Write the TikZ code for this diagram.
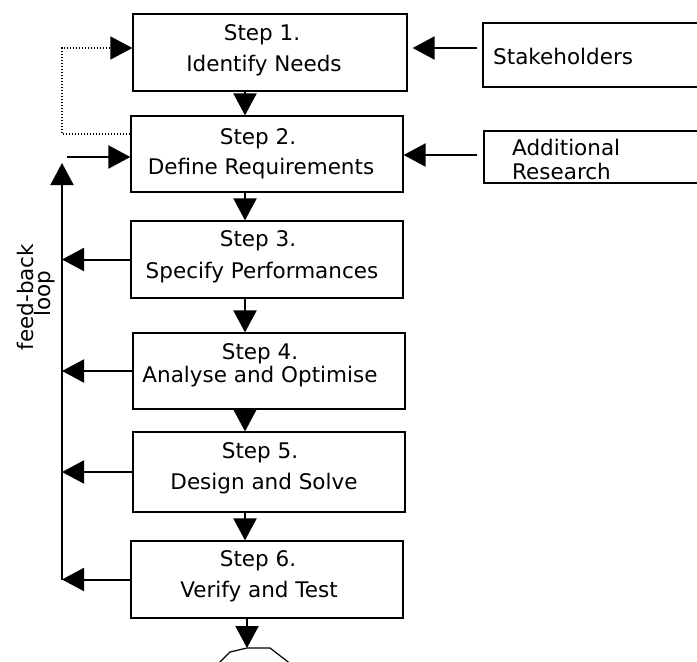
\documentclass[tikz,border=0pt]{standalone}
\usepackage{fontspec}
\setmainfont{DejaVu Sans}
\usetikzlibrary{arrows.meta}

\begin{document}
\begin{tikzpicture}[x=1pt,y=-1pt,
  stepbox/.style={draw, line width=1.2pt, inner sep=0pt, minimum width=272pt},
  srcbox/.style={draw, line width=1.2pt, inner sep=0pt},
  lbl/.style={anchor=base, inner sep=0pt, font=\fontsize{21.5}{24}\selectfont},
  arr/.style={line width=2pt, -{Triangle[length=22pt,width=23pt]}},
  dotline/.style={line width=1.3pt, dash pattern=on 1.5pt off 1.5pt,
                  -{Triangle[length=22pt,width=23pt]}},
  outline/.style={line width=1.2pt}
]
\useasboundingbox (0,0) rectangle (697,662);

% process steps
\node[stepbox, minimum width=274pt, minimum height=77pt] (s1) at (270,52.5) {};
\node[stepbox, minimum height=76pt] (s2) at (267,154) {};
\node[stepbox, minimum height=77pt] (s3) at (267,259.5) {};
\node[stepbox, minimum height=76pt] (s4) at (269,371) {};
\node[stepbox, minimum height=80pt] (s5) at (269,472) {};
\node[stepbox, minimum height=77pt] (s6) at (267,579.5) {};

% inputs on the right
\node[srcbox, minimum width=222pt, minimum height=64pt] (sh) at (594,55) {};
\node[srcbox, minimum width=221pt, minimum height=52pt] (ar) at (594.5,157) {};

% step texts
\node[lbl] (t1a) at (262,40) {Step 1.};
\node[lbl] (t1b) at (264,71) {Identify Needs};
\node[lbl] (t2a) at (258,144) {Step 2.};
\node[lbl] (t2b) at (261,174) {Define Requirements};
\node[lbl] (t3a) at (258,246) {Step 3.};
\node[lbl] (t3b) at (262,278) {Specify Performances};
\node[lbl] (t4a) at (260,359) {Step 4.};
\node[lbl] (t4b) at (260,382) {Analyse and Optimise};
\node[lbl] (t5a) at (260,458) {Step 5.};
\node[lbl] (t5b) at (264,489) {Design and Solve};
\node[lbl] (t6a) at (258,566) {Step 6.};
\node[lbl] (t6b) at (259,597) {Verify and Test};

\node[lbl, anchor=base west] (tsh) at (493,64) {Stakeholders};
\node[lbl, anchor=base west] (tar1) at (512,155) {Additional};
\node[lbl, anchor=base west] (tar2) at (512,179) {Research};

% feed-back label
\node[lbl, rotate=90] (tfb1) at (33,297) {feed-back};
\node[lbl, rotate=90] (tfb2) at (50,294) {loop};

% helper coordinates
\coordinate (ax) at (245,0);
\coordinate (ya) at (0,48);
\coordinate (yb) at (0,155);
\coordinate (dl) at (62,134);
\coordinate (du) at (62,48);
\coordinate (fbtop) at (62,163);
\coordinate (fbin) at (67,157);
\coordinate (endtop) at (247,648);

% main flow
\draw[arr] (s1.south -| ax) -- (s2.north -| ax);
\draw[arr] (s2.south -| ax) -- (s3.north -| ax);
\draw[arr] (s3.south -| ax) -- (s4.north -| ax);
\draw[arr] (s4.south -| ax) -- (s5.north -| ax);
\draw[arr] (s5.south -| ax) -- (s6.north -| ax);
\draw[arr] (s6.south -| endtop) -- (endtop);

% terminal shape below step 6
\draw[outline] (214,668) -- (230,652) -- (endtop) -- (270,648) -- (296,668);

% inputs
\draw[arr, shorten <=5pt, shorten >=5pt] (sh.west |- ya) -- (s1.east |- ya);
\draw[arr, shorten <=6pt] (ar.west |- yb) -- (s2.east |- yb);

% dotted return from step 2 to step 1
\draw[dotline] (s2.west |- dl) -- (dl) -- (du) -- (s1.west |- du);

% feed-back loop
\draw[arr] (s3.west) -- (s3.west -| fbtop);
\draw[arr] (s4.west) -- (s4.west -| fbtop);
\draw[arr] (s5.west) -- (s5.west -| fbtop);
\draw[arr] (s6.west) -- (s6.west -| fbtop);
\draw[arr] (s6.west -| fbtop) -- (fbtop);
\draw[arr] (fbin) -- (fbin -| s2.west);
\end{tikzpicture}
\end{document}
